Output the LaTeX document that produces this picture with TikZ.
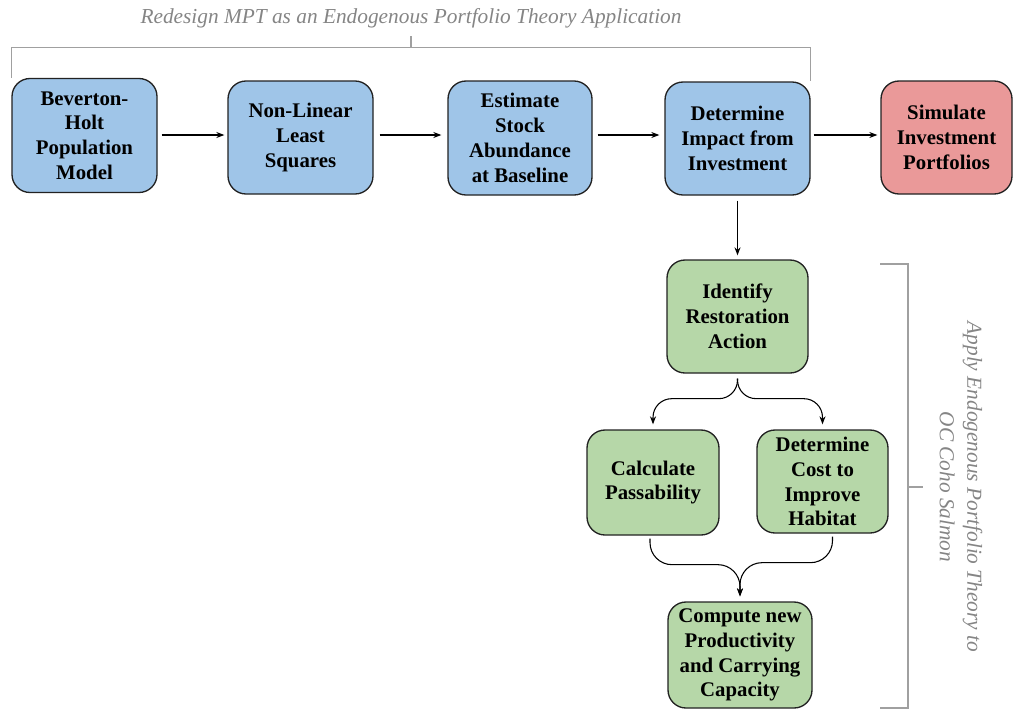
\documentclass[tikz,border=0pt]{standalone}
\usepackage{fontspec}
\setmainfont{Liberation Serif}
\usetikzlibrary{arrows.meta,calc}
\definecolor{bluebox}{HTML}{9FC5E8}
\definecolor{redbox}{HTML}{EA9999}
\definecolor{greenbox}{HTML}{B6D7A8}
\definecolor{brkgray}{HTML}{A0A0A0}
\definecolor{lblgray}{HTML}{858585}
\definecolor{edge}{HTML}{222222}
\tikzset{
  box/.style={draw=edge, line width=1pt, rounded corners=13.5pt, align=center,
    font=\fontsize{15.6}{18.6}\selectfont\bfseries, inner sep=0pt},
  wh/.style 2 args={minimum width=#1*0.75pt, minimum height=#2*0.75pt},
  arr/.style={draw=black, line width=0.8pt, -{Stealth[length=6pt,width=4.5pt]}},
  brk/.style={draw=brkgray, line width=0.9pt},
  lbl/.style={text=lblgray, font=\fontsize{16}{20.5}\selectfont\itshape, align=center, inner sep=0pt}
}
\begin{document}
\begin{tikzpicture}[x=0.75pt,y=-0.75pt]
\useasboundingbox (0,0) rectangle (1013,711);
% top row
\node[box, fill=bluebox, wh={145}{114}] (b1) at (84.5,135.5) {Beverton-\\Holt\\Population\\Model};
\node[box, fill=bluebox, wh={145}{113}] (b2) at (300.5,137.5) {Non-Linear\\Least\\Squares};
\node[box, fill=bluebox, wh={144}{114}] (b3) at (520,138) {Estimate\\Stock\\Abundance\\at Baseline};
\node[box, fill=bluebox, wh={145}{113}] (b4) at (737.5,138.5) {Determine\\Impact from\\Investment};
\node[box, fill=redbox, wh={131}{113}] (b5) at (946.5,137.5) {Simulate\\Investment\\Portfolios};
% lower
\node[box, fill=greenbox, wh={141}{113}] (id) at (737.5,316.5) {Identify\\Restoration\\Action};
\node[box, fill=greenbox, wh={132}{105}] (calc) at (653,482.5) {Calculate\\Passability};
\node[box, fill=greenbox, wh={131}{103}] (cost) at (822.5,481.5) {Determine\\Cost to\\Improve\\Habitat};
\node[box, fill=greenbox, wh={144}{106}] (comp) at (740,655) {Compute new\\Productivity\\and Carrying\\Capacity};
% arrows top row
\draw[arr, shorten <=3pt, shorten >=2.25pt] (b1.east |- 0,135) -- (b2.west |- 0,135);
\draw[arr, shorten <=4.5pt, shorten >=4.5pt] (b2.east |- 0,135) -- (b3.west |- 0,135);
\draw[arr, shorten <=3.75pt, shorten >=3.75pt] (b3.east |- 0,135) -- (b4.west |- 0,135);
\draw[arr, shorten <=2.25pt, shorten >=2.25pt] (b4.east |- 0,135) -- (b5.west |- 0,135);
\draw[arr, shorten <=3.75pt, shorten >=3pt] (b4.south) -- (id.north);
% fork
\coordinate (fk) at ($(id.south)+(0,5)$);
\draw[arr, rounded corners=14pt, shorten >=3.75pt] (fk) -- ++(0,20) -| (calc.north);
\draw[arr, rounded corners=14pt, shorten >=3.75pt] (fk) -- ++(0,20) -| (cost.north);
% merge
\coordinate (mg) at ($(comp.north)+(0,-5)$);
\draw[arr, rounded corners=16.5pt] ($(calc.south)+(-3,3)$) -- ++(0,26) -| (mg);
\draw[arr, rounded corners=16.5pt] ($(cost.south)+(10,3)$) -- ++(0,26) -| (mg);
% top bracket
\draw[brk] (b1.north west) -- ++(0,-30) -| (b4.north east);
\coordinate (tb) at (411,48);
\draw[brk] (tb) -- ++(0,-12);
\node[lbl] (toplbl) at (411,18.5) {Redesign MPT as an Endogenous Portfolio Theory Application};
% right bracket
\coordinate (r1) at (880,264);
\coordinate (r2) at (908,264);
\coordinate (r3) at (908,708);
\coordinate (r4) at (880,708);
\draw[brk] (r1) -- (r2) -- (r3) -- (r4);
\coordinate (rm) at (908,487);
\draw[brk] (rm) -- ++(15,0);
\node[lbl, rotate=-90] (sidelbl) at (961,487) {Apply Endogenous Portfolio Theory to\\OC Coho Salmon};
\end{tikzpicture}
\end{document}
